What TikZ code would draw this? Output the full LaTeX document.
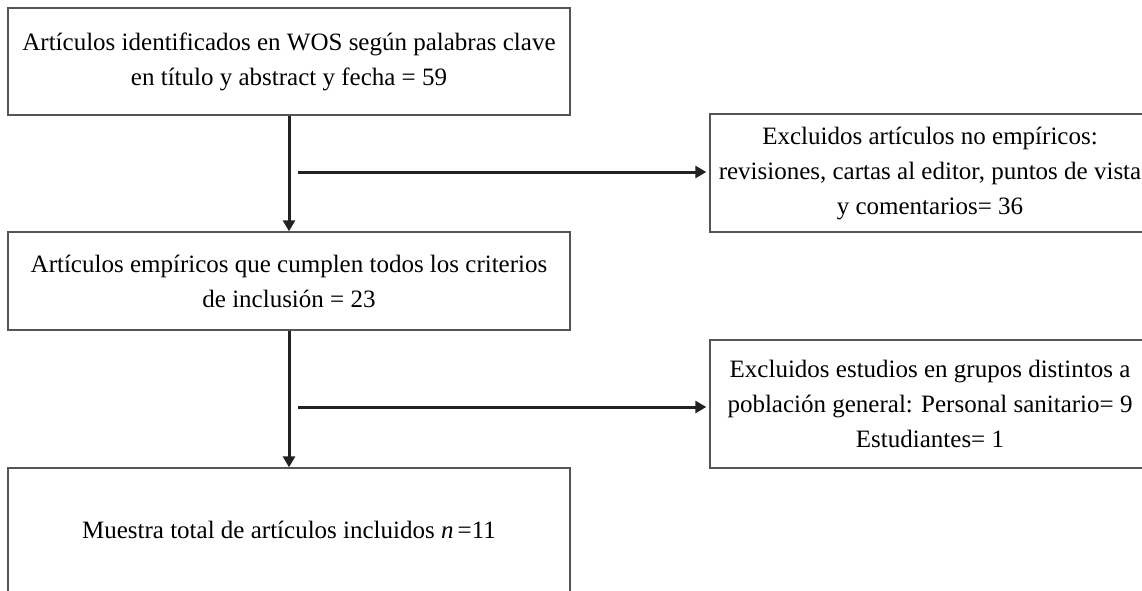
\documentclass[tikz,border=0pt]{standalone}
\usepackage{fontspec}
\setmainfont{Liberation Serif}
\usetikzlibrary{arrows.meta}
\definecolor{boxgray}{HTML}{555555}
\definecolor{arrowblack}{HTML}{222222}
\tikzset{
  box/.style={draw=boxgray, line width=1.4pt, inner sep=0pt, align=center,
    font=\fontsize{25}{35}\selectfont},
  arr/.style={draw=arrowblack, line width=3pt, -{Triangle[length=11pt,width=12pt]}}
}
\begin{document}
\begin{tikzpicture}[x=1pt,y=-1pt]
\clip (0,0) rectangle (1142,590);
\fill[white] (0,0) rectangle (1142,590);
\node[box, minimum width=562pt, minimum height=107pt] (b1) at (289,61.5)
  {Artículos identificados en WOS según palabras clave\\en título y abstract y fecha = 59};
\node[box, minimum width=562pt, minimum height=98pt] (b2) at (289,281)
  {Artículos empíricos que cumplen todos los criterios\\de inclusión = 23};
\node[box, minimum width=562pt, minimum height=124pt] (b3) at (289,530)
  {Muestra total de artículos incluidos \textit{n}\,=11};
\node[box, minimum width=440pt, minimum height=118pt] (r1) at (930,173)
  {Excluidos artículos no empíricos:\\revisiones, cartas al editor, puntos de vista\\y comentarios= 36};
\node[box, minimum width=440pt, minimum height=128pt] (r2) at (930,404)
  {Excluidos estudios en grupos distintos a\\población general: Personal sanitario= 9\\Estudiantes= 1};
\coordinate (h1) at (298,172);
\coordinate (h2) at (298,407);
\draw[arr] (b1.south) -- (b2.north);
\draw[arr] (b2.south) -- (b3.north);
\draw[arr, shorten >=3pt] (h1) -- (h1 -| r1.west);
\draw[arr, shorten >=3pt] (h2) -- (h2 -| r2.west);
\end{tikzpicture}
\end{document}
